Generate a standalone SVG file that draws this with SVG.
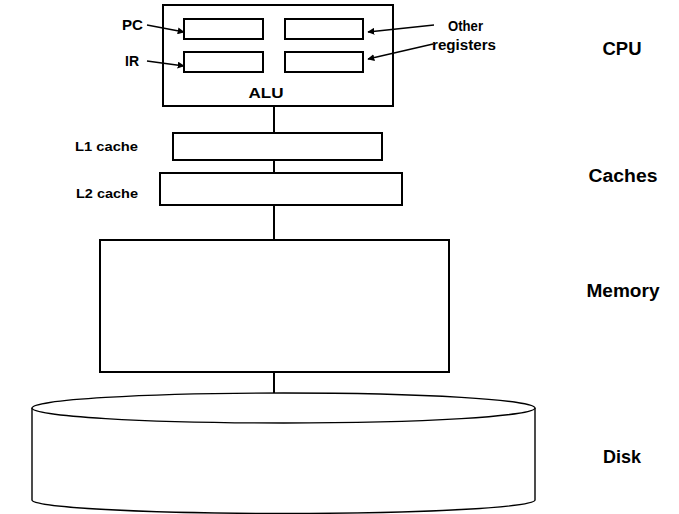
<svg xmlns="http://www.w3.org/2000/svg" width="679" height="514" viewBox="0 0 679 514">
<defs>
<marker id="ah" viewBox="0 0 10 10" refX="9" refY="5" markerWidth="7" markerHeight="7" markerUnits="userSpaceOnUse" orient="auto">
<path d="M0,0 L10,5 L0,10 z" fill="#000"/>
</marker>
<style>
.box{fill:#fff;stroke:#000;stroke-width:2}
.disk{fill:#fff;stroke:#000;stroke-width:1.4}
.conn{stroke:#000;stroke-width:2;fill:none}
.arr{stroke:#000;stroke-width:1.3;fill:none;marker-end:url(#ah)}
text{font-family:"Liberation Sans",Arial,sans-serif;font-weight:bold;fill:#000}
.lbl{font-size:14px}
.big{font-size:18px;text-anchor:middle}
</style>
</defs>
<rect width="679" height="514" fill="#fff"/>
<g id="cpu">
<rect class="box" x="163" y="5" width="230" height="101"/>
<text x="266" y="98" font-size="15" text-anchor="middle" textLength="35" lengthAdjust="spacingAndGlyphs">ALU</text>
</g>
<g id="pc">
<rect class="box" x="184" y="19" width="79" height="20"/>
<text class="lbl" x="122" y="30" textLength="21" lengthAdjust="spacingAndGlyphs">PC</text>
</g>
<g id="ir">
<rect class="box" x="184" y="52" width="79" height="20"/>
<text class="lbl" x="125" y="66" textLength="14" lengthAdjust="spacingAndGlyphs">IR</text>
</g>
<g id="reg1">
<rect class="box" x="285" y="19" width="78" height="20"/>
</g>
<g id="reg2">
<rect class="box" x="285" y="52" width="78" height="20"/>
</g>
<g id="other-registers-label">
<text class="lbl" x="448" y="31" textLength="35" lengthAdjust="spacingAndGlyphs">Other</text>
<text class="lbl" x="432" y="50" textLength="64" lengthAdjust="spacingAndGlyphs">registers</text>
</g>
<g id="l1">
<rect class="box" x="173" y="133" width="209" height="27"/>
<text x="75" y="151" font-size="13" textLength="63" lengthAdjust="spacingAndGlyphs">L1 cache</text>
</g>
<g id="l2">
<rect class="box" x="160" y="173" width="242" height="32"/>
<text x="76" y="198" font-size="13" textLength="62" lengthAdjust="spacingAndGlyphs">L2 cache</text>
</g>
<g id="memory">
<rect class="box" x="100" y="240" width="349" height="132"/>
</g>
<g id="disk">
<path class="disk" d="M32,408 L32,500 A251.5,13.5 0 0 0 535,500 L535,408"/>
<ellipse class="disk" cx="283.5" cy="408" rx="251.5" ry="15"/>
</g>
<g id="level-labels">
<text class="big" x="622" y="55" textLength="39" lengthAdjust="spacingAndGlyphs">CPU</text>
<text class="big" x="623" y="182" textLength="69" lengthAdjust="spacingAndGlyphs">Caches</text>
<text class="big" x="623" y="297" textLength="73" lengthAdjust="spacingAndGlyphs">Memory</text>
<text class="big" x="622" y="463" textLength="38" lengthAdjust="spacingAndGlyphs">Disk</text>
</g>
<g id="connectors">
<line class="conn" x1="274" y1="106" x2="274" y2="133"/>
<line class="conn" x1="274" y1="160" x2="274" y2="173"/>
<line class="conn" x1="274" y1="205" x2="274" y2="240"/>
<line class="conn" x1="274" y1="372" x2="274" y2="393"/>
<line class="arr" x1="147" y1="25" x2="184" y2="32"/>
<line class="arr" x1="147" y1="61" x2="184" y2="66"/>
<line class="arr" x1="434" y1="25" x2="368" y2="32"/>
<line class="arr" x1="433" y1="44" x2="368" y2="59"/>
</g>
</svg>
